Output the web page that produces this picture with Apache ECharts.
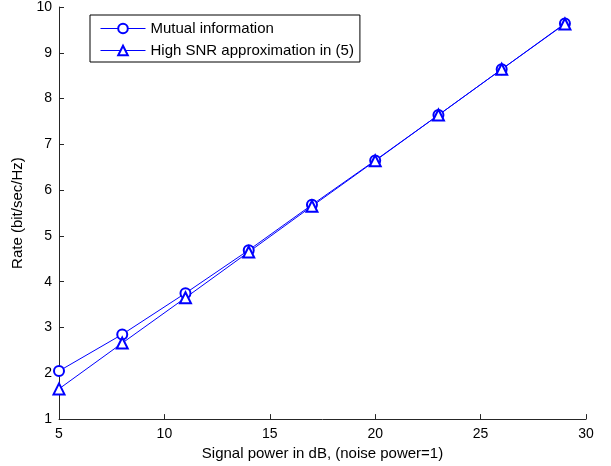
<!DOCTYPE html>
<html><head><meta charset="utf-8">
<script src="https://cdn.jsdelivr.net/npm/echarts@6/dist/echarts.min.js"></script>
<style>html,body{margin:0;padding:0;background:#fff}#c{width:611px;height:466px}</style>
</head><body><div id="c"></div>
<script>
var snrDb = [5, 8, 11, 14, 17, 20, 23, 26, 29];
var mutualInfo = [2.05, 2.85, 3.75, 4.69, 5.68, 6.65, 7.64, 8.64, 9.64];
var highSnrApprox = [1.66, 2.66, 3.65, 4.65, 5.65, 6.64, 7.64, 8.64, 9.63];
var seriesNames = ['Mutual information', 'High SNR approximation in (5)'];
var xLabel = 'Signal power in dB, (noise power=1)';
var yLabel = 'Rate (bit/sec/Hz)';

function pairs(xs, ys){ return xs.map(function(x,i){ return [x, ys[i]]; }); }
var font = 'Liberation Sans, Arial, sans-serif';
var axisCol = '#262626';
var chart = echarts.init(document.getElementById('c'), null, {renderer:'canvas'});
chart.setOption({
  animation: false,
  backgroundColor: '#fff',
  grid: {left: 59, right: 25, top: 5, bottom: 45, containLabel: false},
  legend: {
    orient: 'vertical', left: 90, top: 15,
    padding: [5, 6, 3, 10],
    itemGap: 5,
    itemWidth: 45, itemHeight: 12,
    borderColor: '#000', borderWidth: 1, backgroundColor: '#fff',
    lineStyle: {width: 1},
    itemStyle: {borderWidth: 1},
    textStyle: {fontFamily: font, fontSize: 15, color: '#000', lineHeight: 17},
    data: seriesNames
  },
  xAxis: {
    type: 'value', min: 5, max: 30, interval: 5,
    name: xLabel, nameLocation: 'middle', nameGap: 25,
    nameTextStyle: {fontFamily: font, fontSize: 15, color: '#000'},
    axisLine: {show: true, lineStyle: {color: axisCol, width: 1}},
    axisTick: {show: true, inside: true, length: 5, lineStyle: {color: axisCol}},
    axisLabel: {fontFamily: font, fontSize: 14, color: '#000', margin: 8},
    splitLine: {show: false}
  },
  yAxis: {
    type: 'value', min: 1, max: 10, interval: 1,
    name: yLabel, nameLocation: 'middle', nameGap: 28,
    nameTextStyle: {fontFamily: font, fontSize: 15, color: '#000'},
    axisLine: {show: true, lineStyle: {color: axisCol, width: 1}},
    axisTick: {show: true, inside: true, length: 5, lineStyle: {color: axisCol}},
    axisLabel: {fontFamily: font, fontSize: 14, color: '#000', margin: 7},
    splitLine: {show: false}
  },
  series: [
    {name: seriesNames[0], type: 'line', data: pairs(snrDb, mutualInfo),
     symbol: 'emptyCircle', symbolSize: 10,
     lineStyle: {color: '#0000ff', width: 1}, itemStyle: {color: '#0000ff', borderColor: '#0000ff', borderWidth: 1}},
    {name: seriesNames[1], type: 'line', data: pairs(snrDb, highSnrApprox),
     symbol: 'emptyTriangle', symbolSize: 11,
     lineStyle: {color: '#0000ff', width: 1}, itemStyle: {color: '#0000ff', borderColor: '#0000ff', borderWidth: 1}}
  ]
});
</script></body></html>
